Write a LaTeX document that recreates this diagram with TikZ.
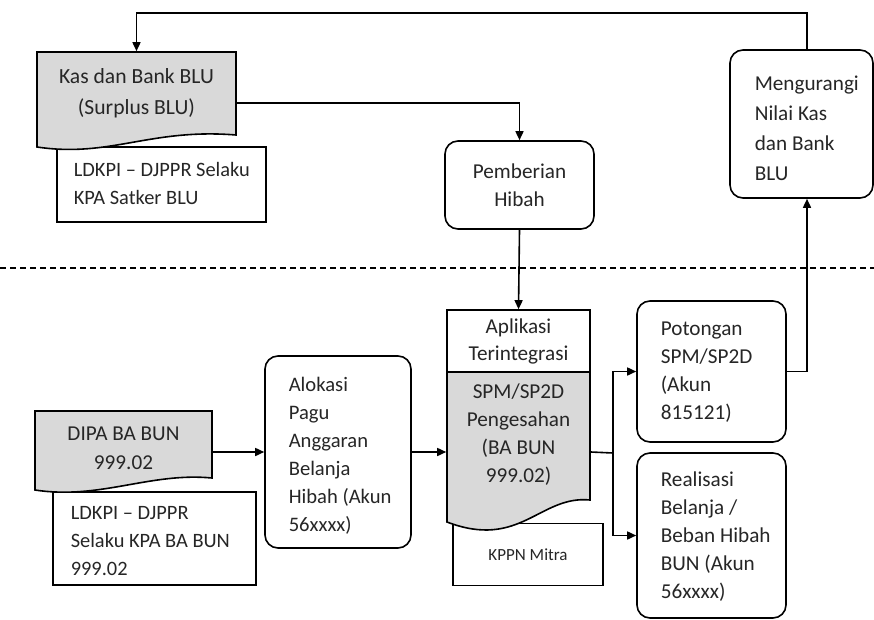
\documentclass[tikz,border=0pt]{standalone}
\usepackage{fontspec}
\setmainfont{Carlito}
\usetikzlibrary{arrows.meta,calc}
\definecolor{docgrey}{HTML}{D9D9D9}
\definecolor{txt}{HTML}{262626}
\begin{document}
\begin{tikzpicture}[x=1pt,y=-1pt,
  line width=1.6pt,
  every node/.style={text=txt,font=\fontsize{21.2}{28}\selectfont},
  plainbox/.style={draw,fill=white,rectangle,inner sep=0pt},
  roundbox/.style={draw,fill=white,rectangle,rounded corners=13pt,inner sep=0pt},
  txtonly/.style={inner sep=0pt},
  lefttxt/.style={inner sep=0pt,anchor=west,align=left},
  arr/.style={-{Triangle[length=9pt,width=8pt]}},
  docfill/.style={draw,fill=docgrey}
]
\useasboundingbox (0,0) rectangle (874,620);

% ---------- upper part ----------
\node[plainbox,minimum width=209pt,minimum height=75pt] (ldk1) at (161.5,184.5) {};
\node[lefttxt,font=\fontsize{20.4}{28}\selectfont] (ldk1t) at (73,183.5) {LDKPI -- DJPPR Selaku\\KPA Satker BLU};
\draw[docfill] (37,52) -- (236,52) -- (236,135) .. controls (150,128) and (110,158) .. (37,147) -- cycle;
\node[txtonly,minimum width=199pt,minimum height=83pt,align=center,font=\fontsize{21.6}{31}\selectfont] (kas) at (136.5,93.5) {Kas dan Bank BLU\\(Surplus BLU)};

\node[roundbox,minimum width=149pt,minimum height=88pt,align=center] (pem) at (519.5,185) {Pemberian\\Hibah};

\node[roundbox,minimum width=143pt,minimum height=148pt] (meng) at (801.5,124) {};
\node[lefttxt,font=\fontsize{21.2}{30}\selectfont] (mengt) at (754,128) {Mengurangi\\Nilai Kas\\dan Bank\\BLU};

\coordinate (topy) at (0,13);

% ---------- dashed separator ----------
\coordinate (dl) at (0,268);
\coordinate (dr) at (874,268);
\draw[line width=1.3pt,dash pattern=on 6pt off 4pt] (dl) -- (dr);

% ---------- lower part ----------
\node[plainbox,minimum width=203pt,minimum height=93pt] (ldk2) at (154.5,538.5) {};
\node[lefttxt,font=\fontsize{20.4}{28}\selectfont] (ldk2t) at (70,541.5) {LDKPI -- DJPPR\\Selaku KPA BA BUN\\999.02};
\draw[docfill] (35,411) -- (212,411) -- (212,478) .. controls (150,472) and (100,500) .. (35,490) -- cycle;
\node[txtonly,minimum width=177pt,minimum height=72pt,align=center,font=\fontsize{21.2}{29}\selectfont] (dipa) at (123.5,448) {DIPA BA BUN\\999.02};

\node[roundbox,minimum width=146pt,minimum height=192pt] (alo) at (338,452) {};
\node[lefttxt,font=\fontsize{20.6}{28}\selectfont] (alot) at (288,455.5) {Alokasi\\Pagu\\Anggaran\\Belanja\\Hibah (Akun\\56xxxx)};

\node[plainbox,minimum width=150pt,minimum height=62pt,font=\fontsize{17}{20}\selectfont] (kppn) at (528,554.5) {KPPN Mitra};
\draw[docfill] (447,372) -- (590,372) -- (590,500) .. controls (540,495) and (520,550) .. (447,522) -- cycle;
\node[plainbox,minimum width=143pt,minimum height=62pt,align=center,font=\fontsize{21.2}{27}\selectfont] (aplt) at (518.5,341) {Aplikasi\\Terintegrasi};
\node[txtonly,minimum width=143pt,minimum height=162pt,align=center] (aplg) at (518.5,453) {};
\node[txtonly,align=center] (aplgt) at (518.5,435) {SPM/SP2D\\Pengesahan\\(BA BUN\\999.02)};

\node[roundbox,minimum width=149pt,minimum height=141pt] (pot) at (711.5,371.5) {};
\node[lefttxt] (pott) at (660,372) {Potongan\\SPM/SP2D\\(Akun\\815121)};
\node[roundbox,minimum width=149pt,minimum height=165pt] (real) at (711.5,535.5) {};
\node[lefttxt] (realt) at (660,537) {Realisasi\\Belanja /\\Beban Hibah\\BUN (Akun\\56xxxx)};

\coordinate (split) at (613,453);

% ---------- connectors ----------
\draw[arr] ([xshift=5.5pt]meng.north) |- (kas.north |- topy) -- (kas.north);
\draw[arr] ([yshift=-9.5pt]kas.east) -| (pem.north);
\draw[arr] (pem.south) -- (aplt.north);
\draw[arr] (alo.west -| dipa.east) -- (alo.west);
\draw[arr] (alo.east) -- (alo.east -| aplg.west);
\draw (alo.east -| aplg.east) -- (split);
\draw[arr] (split) |- (pot.west);
\draw[arr] (split) |- (real.west);
\draw[arr] (pot.east) -| ([xshift=5.5pt]meng.south);
\end{tikzpicture}
\end{document}
